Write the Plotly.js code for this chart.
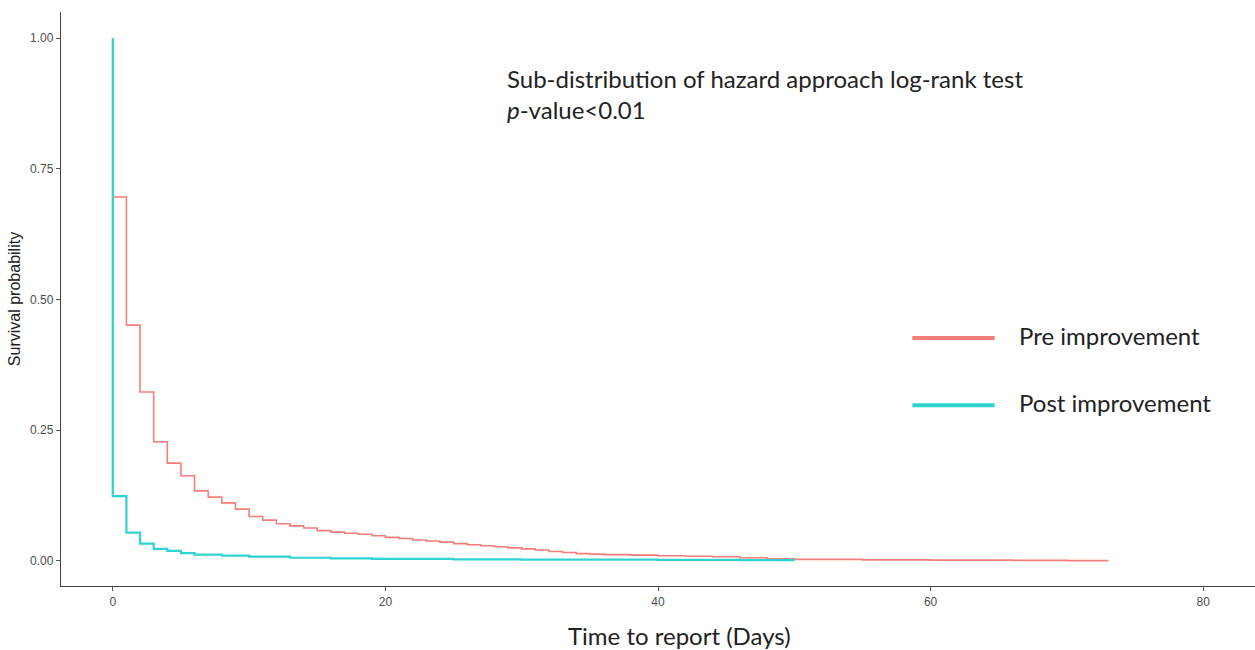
<!DOCTYPE html>
<html>
<head>
<meta charset="utf-8">
<script src="https://cdn.plot.ly/plotly-3.0.1.min.js"></script>
<style>html,body{margin:0;padding:0;background:#fff;}#chart{width:1255px;height:650px;}</style>
</head>
<body>
<div id="chart"></div>
<script>
// Pre improvement (step curve, value holds until next time)
const preDays = [0, 0, 1, 2, 3, 4, 5, 6, 7, 8, 9, 10, 11, 12, 13, 14, 15, 16, 17, 18, 19, 20, 21, 22, 23, 24, 25, 26, 27, 28, 29, 30, 31, 32, 33, 34, 35, 36, 38, 40, 42, 44, 46, 48, 50, 55, 60, 66, 70, 73];
const preSurv = [1.0, 0.696, 0.451, 0.323, 0.228, 0.187, 0.163, 0.134, 0.122, 0.111, 0.099, 0.085, 0.078, 0.071, 0.067, 0.063, 0.058, 0.055, 0.053, 0.051, 0.048, 0.045, 0.043, 0.040, 0.038, 0.036, 0.033, 0.031, 0.029, 0.027, 0.025, 0.023, 0.021, 0.018, 0.016, 0.014, 0.013, 0.012, 0.011, 0.010, 0.009, 0.008, 0.006, 0.004, 0.003, 0.002, 0.0015, 0.001, 0.0005, 0.0];

// Post improvement
const postDays = [0, 0, 1, 2, 3, 4, 5, 6, 8, 10, 13, 16, 19, 25, 30, 40, 46, 50];
const postSurv = [1.0, 0.124, 0.054, 0.033, 0.023, 0.019, 0.015, 0.012, 0.010, 0.008, 0.006, 0.005, 0.004, 0.003, 0.0025, 0.002, 0.0015, 0.001];

const seriesNames = ["Pre improvement", "Post improvement"];
const seriesColors = ["#F47E7A", "#2FD3D0"];
const xTicks = [0, 20, 40, 60, 80];
const yTicks = [0, 0.25, 0.5, 0.75, 1.0];
const yTickLabels = ["0.00", "0.25", "0.50", "0.75", "1.00"];
const xTitle = "Time to report (Days)";
const yTitle = "Survival probability";

const traces = [
  {x: preDays, y: preSurv, type: "scatter", mode: "lines", line: {shape: "hv", color: seriesColors[0], width: 1.6}, name: seriesNames[0]},
  {x: postDays, y: postSurv, type: "scatter", mode: "lines", line: {shape: "hv", color: seriesColors[1], width: 2.2}, name: seriesNames[1]}
];

const legendY = [0.432, 0.315];
const shapes = seriesNames.map((n, i) => ({
  type: "line", xref: "paper", yref: "paper",
  x0: 0.713, x1: 0.782, y0: legendY[i], y1: legendY[i],
  line: {color: seriesColors[i], width: 4}
}));
const annotations = seriesNames.map((n, i) => ({
  text: n, xref: "paper", yref: "paper", x: 0.801, y: legendY[i] + 0.004,
  xanchor: "left", yanchor: "middle", showarrow: false,
  font: {family: "Lato, 'Open Sans', sans-serif", size: 24, color: "#222"}
}));
annotations.push({
  text: "Sub-distribution of hazard approach log-rank test<br><i>p</i>-value<0.01",
  xref: "paper", yref: "paper", x: 0.372, y: 0.913, xanchor: "left", yanchor: "top",
  align: "left", showarrow: false,
  font: {family: "Lato, 'Open Sans', sans-serif", size: 24, color: "#222"}
});
annotations.push({
  text: xTitle, xref: "paper", yref: "paper", x: 0.5176, y: -0.087,
  xanchor: "center", yanchor: "middle", showarrow: false,
  font: {family: "Lato, 'Open Sans', sans-serif", size: 24, color: "#222"}
});

const layout = {
  width: 1255, height: 650,
  margin: {l: 61, r: 0, t: 12, b: 64},
  paper_bgcolor: "#fff", plot_bgcolor: "#fff",
  showlegend: false,
  xaxis: {
    range: [-3.8, 83.8], tickvals: xTicks, ticktext: xTicks.map(String),
    showgrid: false, zeroline: false, showline: true, linecolor: "#444", linewidth: 1.2,
    ticks: "outside", ticklen: 4, tickcolor: "#555",
    tickfont: {family: "Arial, 'Liberation Sans', sans-serif", size: 12, color: "#4d4d4d"}
  },
  yaxis: {
    range: [-0.048, 1.05], tickvals: yTicks, ticktext: yTickLabels,
    showgrid: false, zeroline: false, showline: true, linecolor: "#444", linewidth: 1.2,
    ticks: "outside", ticklen: 4, tickcolor: "#555",
    tickfont: {family: "Arial, 'Liberation Sans', sans-serif", size: 12, color: "#4d4d4d"},
    title: {text: yTitle, font: {family: "Arial, 'Liberation Sans', sans-serif", size: 16, color: "#222"}, standoff: 5}
  },
  shapes: shapes,
  annotations: annotations
};

Plotly.newPlot("chart", traces, layout, {displayModeBar: false, staticPlot: true});
</script>
</body>
</html>
